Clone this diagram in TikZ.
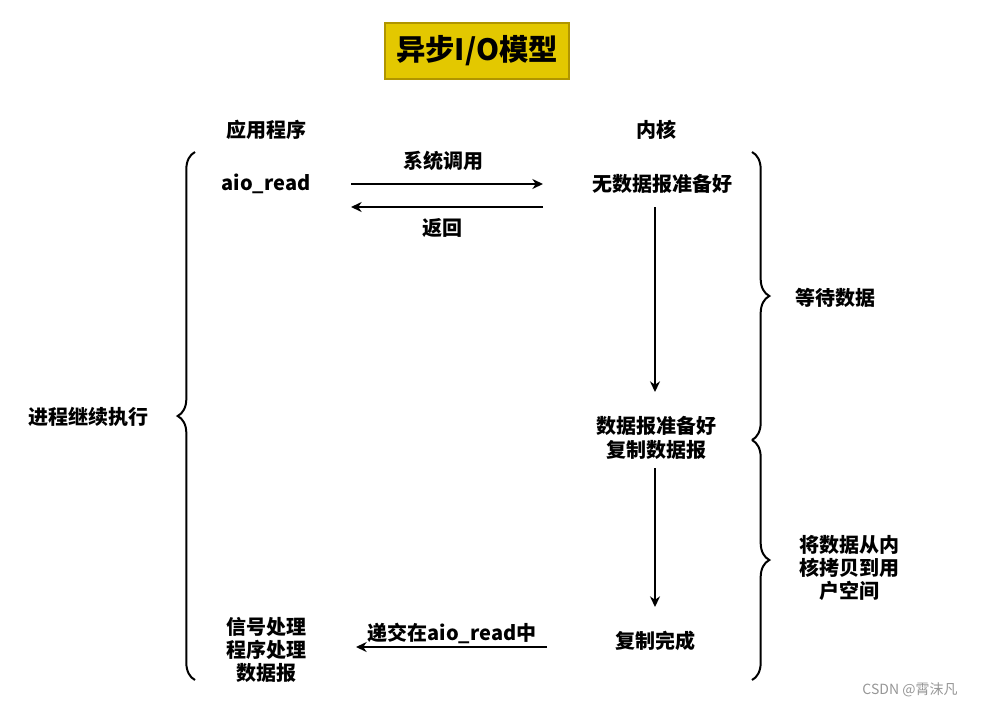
\documentclass[tikz,border=0pt]{standalone}
\usepackage{fontspec}
\setmainfont{Noto Sans CJK SC}
\newfontfamily\wmfont{Noto Sans CJK SC}
\usetikzlibrary{arrows.meta,decorations.pathreplacing}
\begin{document}
\begin{tikzpicture}[x=0.75pt,y=-0.75pt,
  lbl/.style={font=\fontsize{15}{17.5}\selectfont\bfseries, align=center, inner sep=0pt},
  arr/.style={line width=1.5pt, -{Stealth[length=8pt,width=7.5pt]}},
  brc/.style={line width=1.5pt, decorate, decoration={brace, amplitude=13pt}},
]
\useasboundingbox (0,0) rectangle (1003,708);
% title
\node[draw={rgb,255:red,176;green,149;blue,0}, line width=1.5pt, fill={rgb,255:red,227;green,200;blue,0},
  minimum width=184*0.75pt, minimum height=56*0.75pt, inner sep=0pt,
  font=\fontsize{22}{26}\selectfont\bfseries] (title) at (477,51) {异步I/O模型};
% headers
\node[lbl] (app) at (266,130) {应用程序};
\node[lbl] (kern) at (656,130) {内核};
% left column
\node[lbl] (aio) at (266,184) {aio\_read};
\node[lbl] (sig) at (266,650) {信号处理\\程序处理\\数据报};
% kernel column
\node[lbl] (nodata) at (662,184) {无数据报准备好};
\node[lbl] (ready) at (656,438) {数据报准备好\\复制数据报};
\node[lbl] (done) at (655,641) {复制完成};
% arrow endpoints
\coordinate (a1s) at (351,184); \coordinate (a1e) at (543,184);
\coordinate (a2s) at (543,207); \coordinate (a2e) at (351,207);
\coordinate (v1s) at (655,207); \coordinate (v1e) at (655,392);
\coordinate (v2s) at (655,468); \coordinate (v2e) at (655,607);
\coordinate (a3s) at (547,647); \coordinate (a3e) at (356,647);
\draw[arr] (a1s) -- (a1e);
\draw[arr] (a2s) -- (a2e);
\draw[arr] (v1s) -- (v1e);
\draw[arr] (v2s) -- (v2e);
\draw[arr] (a3s) -- (a3e);
% arrow labels
\node[lbl] (sys) at (443,161) {系统调用};
\node[lbl] (ret) at (442,228) {返回};
\node[lbl] (deliver) at (452,633) {递交在aio\_read中};
% braces
\coordinate (lb1) at (195,680); \coordinate (lb2) at (195,152);
\draw[brc] (lb1) -- (lb2);
\coordinate (rb1) at (752,152); \coordinate (rb2) at (752,440); \coordinate (rb3) at (752,680);
\draw[brc] (rb1) -- (rb2);
\draw[brc] (rb2) -- (rb3);
\node[lbl] (cont) at (88,417) {进程继续执行};
\node[lbl] (wait) at (835,298) {等待数据};
\node[lbl] (copy) at (849,568) {将数据从内\\核拷贝到用\\户空间};
% watermark
\node[font=\wmfont\fontsize{10.5}{12}\selectfont, text={rgb,255:red,150;green,150;blue,150}, inner sep=0pt] (wm) at (910,690) {CSDN @霄沫凡};
\end{tikzpicture}
\end{document}
